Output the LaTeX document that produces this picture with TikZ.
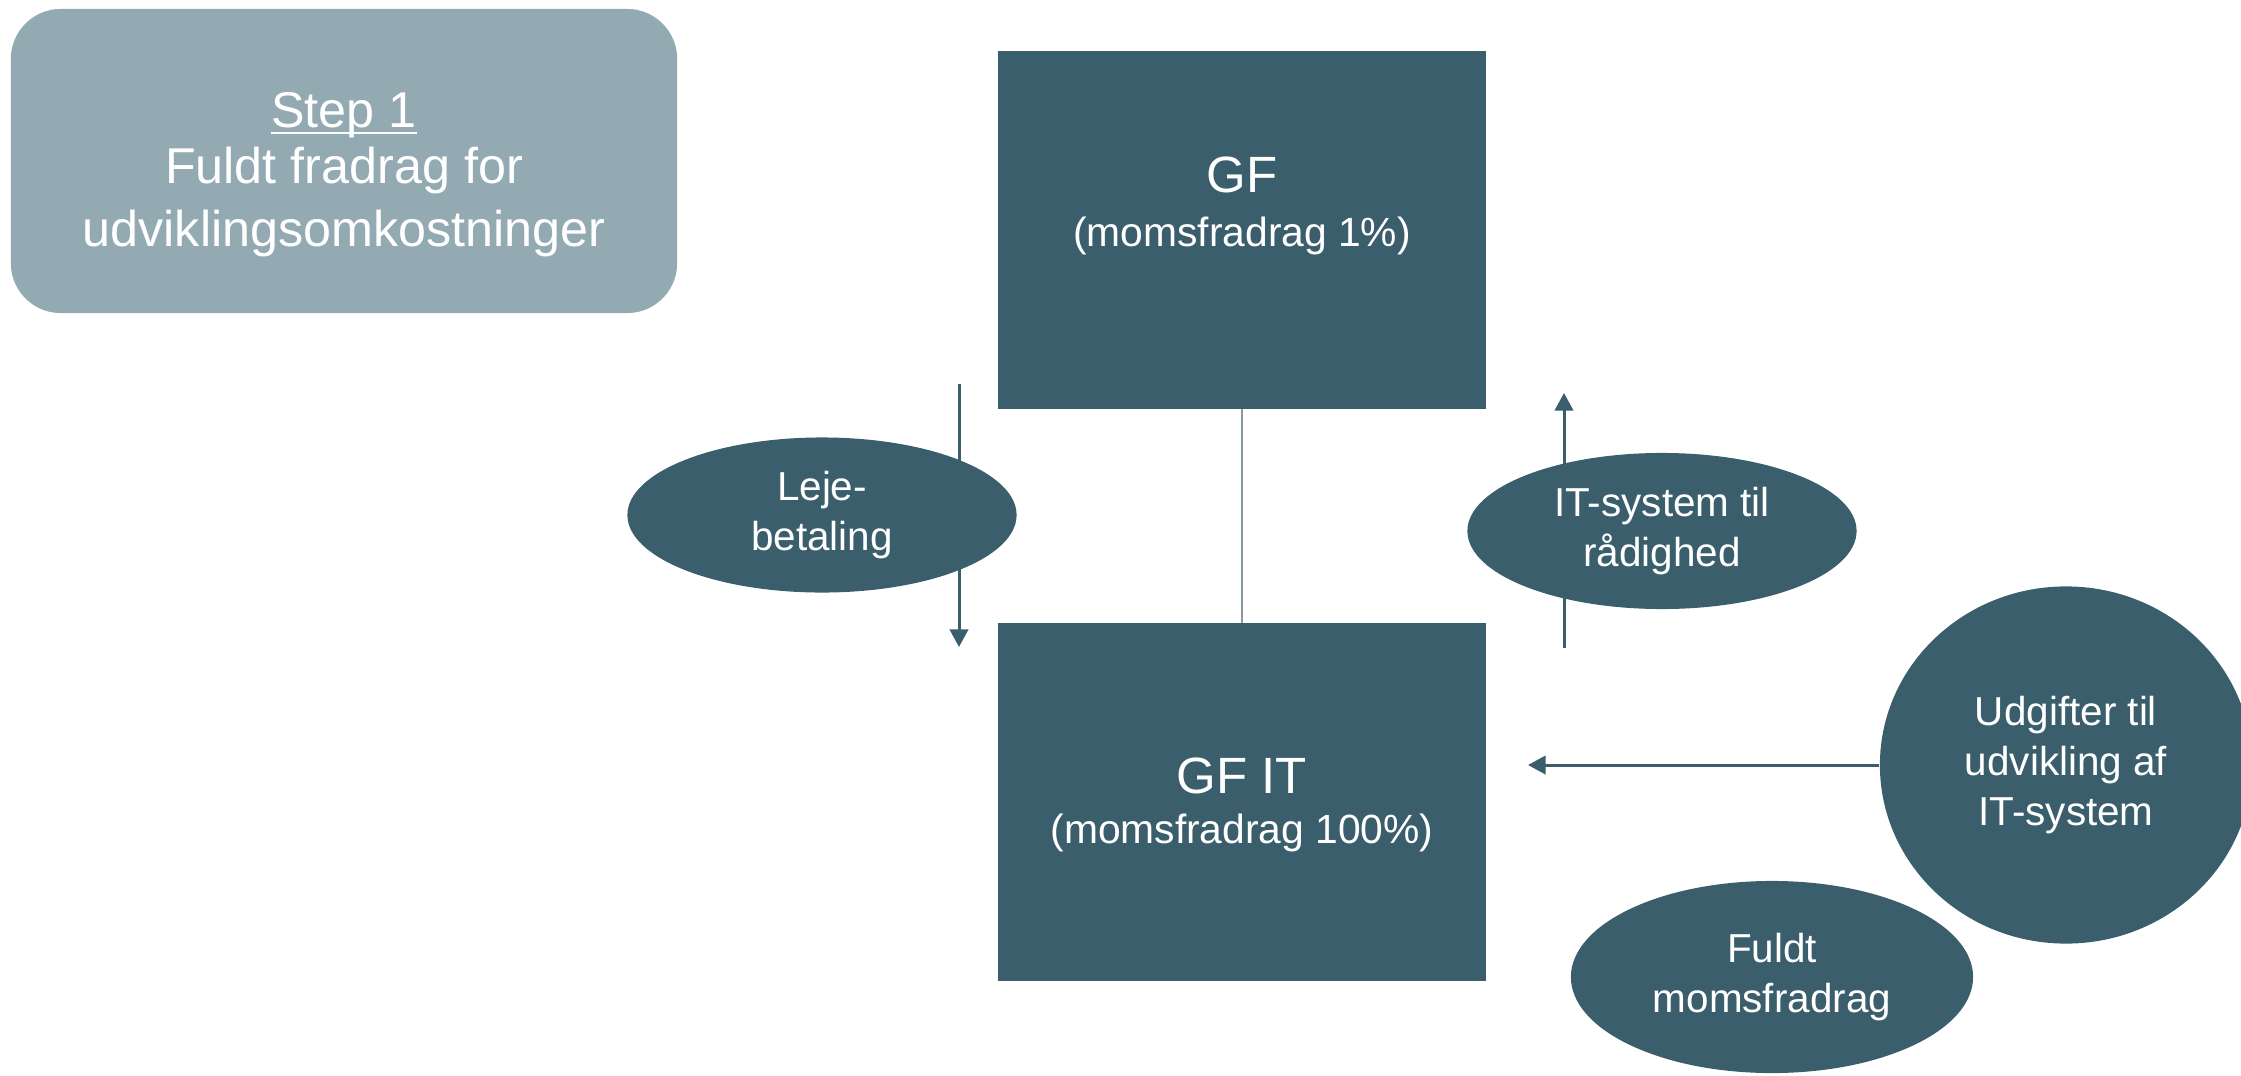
\documentclass[tikz,border=0pt]{standalone}
\usepackage{fontspec}
\setmainfont{Liberation Sans}
\usetikzlibrary{shapes.geometric, arrows.meta}

\definecolor{petrol}{HTML}{3A5E6B}
\definecolor{stepgray}{HTML}{94AAB3}
\definecolor{linkgray}{HTML}{8499A2}

\begin{document}
\begin{tikzpicture}[x=0.01cm, y=-0.01cm,
    box/.style={rectangle, fill=petrol, minimum width=4.88cm, minimum height=3.57cm, inner sep=0pt},
    blob/.style={ellipse, fill=petrol, text=white, inner sep=0pt, align=center,
        font=\fontsize{11.5}{14.2}\selectfont},
    lbl/.style={text=white, align=center, font=\fontsize{11.6}{14}\selectfont},
    flow/.style={draw=petrol, line width=0.85pt, -{Triangle[width=5.2pt,length=5pt]}}]
        \useasboundingbox (0,0) rectangle (2241,1075);

        \node [rounded corners=0.5cm, fill=stepgray, minimum width=6.66cm, minimum height=3.04cm,
            inner sep=0pt] (step) at (344,161) {};
        \node [text=white, align=center, font=\fontsize{14.3}{18.1}\selectfont] (steptxt) at (344,175)
            {\underline{\raisebox{0pt}[\height][0pt]{Step 1}}\\[-2.4pt]Fuldt fradrag for\\udviklingsomkostninger};

        \node [box] (gf) at (1242,230) {};
        \node [box] (gfit) at (1242,802) {};
        \node [lbl] (gftxt) at (1242,206) {{\fontsize{14.5}{14}\selectfont GF}\\[1.4pt](momsfradrag 1\%)};
        \node [lbl] (gfittxt) at (1242,805) {{\fontsize{14.5}{14}\selectfont GF IT}\\(momsfradrag 100\%)};
        \draw[linkgray, line width=0.45pt] (gf.south) -- (gfit.north);

        \coordinate (lejetop) at (959,384);
        \coordinate (lejebot) at (959,647);
        \coordinate (radbot) at (1564,648);
        \coordinate (radtop) at (1564,393);
        \draw[flow] (lejetop) -- (lejebot);
        \draw[flow] (radbot) -- (radtop);

        \node [blob, minimum width=3.89cm, minimum height=1.55cm] (leje) at (822,515) {Leje-\\betaling};
        \node [blob, minimum width=3.89cm, minimum height=1.56cm] (raadig) at (1662,531) {IT-system til\\rådighed};
        \node [blob, minimum width=3.72cm, minimum height=3.57cm] (udg) at (2066,765) {Udgifter til\\udvikling af\\IT-system};
        \node [blob, minimum width=4.02cm, minimum height=1.92cm] (fuldt) at (1772,977) {Fuldt\\momsfradrag};

        \coordinate (udgtip) at (1528,765);
        \draw[flow] (udg.west) -- (udgtip);
    \end{tikzpicture}
\end{document}
